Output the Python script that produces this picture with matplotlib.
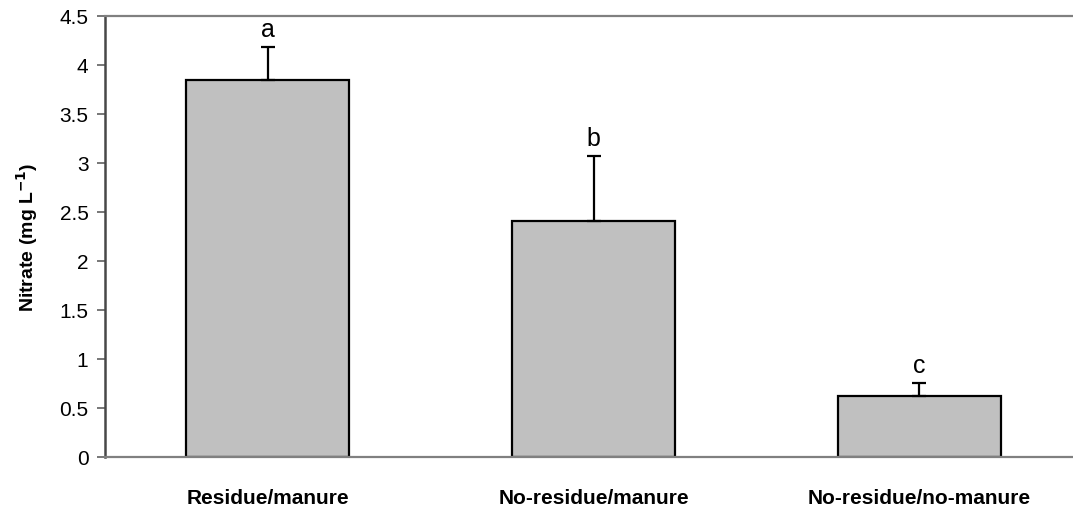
import matplotlib.pyplot as plt

plt.rcParams['font.family'] = ['Liberation Sans', 'DejaVu Sans']

# data
treatments = ['Residue/manure', 'No-residue/manure', 'No-residue/no-manure']
nitrate = [3.85, 2.41, 0.62]
nitrate_err = [0.33, 0.66, 0.14]
letters = ['a', 'b', 'c']
yticks = [0, 0.5, 1, 1.5, 2, 2.5, 3, 3.5, 4, 4.5]

fig = plt.figure(figsize=(10.73, 5.10), dpi=100)
# plot area runs a little past the right edge, as in the reference
ax = fig.add_axes([0.0979, 0.102, 0.9105, 0.8647])

x = list(range(len(treatments)))
ax.bar(x, nitrate, width=0.5, color='#c0c0c0', edgecolor='black', linewidth=1.6, zorder=2)
ax.errorbar(x, nitrate, yerr=[[0] * len(x), nitrate_err], fmt='none',
            ecolor='black', elinewidth=1.6, capsize=5, capthick=1.6, zorder=3)

for xi, v, e, lab in zip(x, nitrate, nitrate_err, letters):
    ax.text(xi, v + e + 0.06, lab, ha='center', va='bottom', fontsize=18)

ax.set_xlim(-0.5, 2.5)
ax.set_ylim(0, 4.5)
ax.set_yticks(yticks)
ax.set_yticklabels([f'{t:g}' for t in yticks], fontsize=15)
ax.set_xticks(x)
ax.set_xticklabels(treatments, fontsize=15, fontweight='bold')
ax.tick_params(axis='x', length=0, pad=22)
ax.tick_params(axis='y', length=6, width=1.2, color='#606060', pad=6)

ax.set_ylabel(r'Nitrate (mg L$^{\mathbf{-1}}$)', fontsize=14, fontweight='bold', labelpad=14)

ax.spines['left'].set_color('#484848')
ax.spines['left'].set_linewidth(1.8)
ax.spines['bottom'].set_color('#808080')
ax.spines['bottom'].set_linewidth(1.6)
ax.spines['top'].set_color('#808080')
ax.spines['top'].set_linewidth(1.6)
ax.spines['right'].set_visible(False)

fig.savefig('out.png', dpi=100)
